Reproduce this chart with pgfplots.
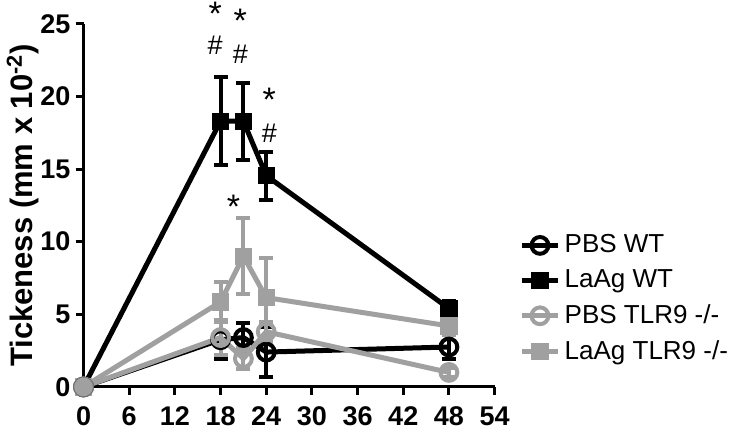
\documentclass[border=0pt]{standalone}
\usepackage{fontspec}
\setmainfont{Liberation Sans}
\usepackage{pgfplots}
\pgfplotsset{compat=1.18}

\definecolor{grayc}{RGB}{160,160,160}

\begin{document}
\begin{tikzpicture}
\begin{axis}[
    scale only axis,
    width=205.5pt, height=181.5pt,
    xmin=0, xmax=54, ymin=0, ymax=25,
    axis lines=left,
    axis line style={line width=1.5pt,-},
    xtick={0,6,...,54}, ytick={0,5,...,25},
    tick align=outside,
    major tick length=4pt,
    tick style={line width=1.5pt,black},
    /pgf/number format/assume math mode=true,
    ticklabel style={font=\fontsize{13.5}{14}\selectfont\bfseries},
    xticklabel style={yshift=-2.5pt},
    yticklabel style={xshift=1pt},
    ylabel={\bfseries Tickeness (mm x 10\textsuperscript{-2})},
    ylabel style={font=\fontsize{15.5}{16}\selectfont, yshift=-6pt},
    clip=false,
    legend cell align=left,
    legend style={draw=none, fill=none, inner sep=0pt, outer sep=0pt,
      at={(1.06,0.43)}, anchor=north west,
      font=\fontsize{13}{14}\selectfont, row sep=3pt,
      /tikz/every even column/.append style={column sep=6pt}},
    legend image code/.code={
      \draw[#1,mark repeat=2,mark phase=2] plot coordinates {(0cm,0cm) (0.32cm,0cm) (0.64cm,0cm)};},
    error bars/y dir=both, error bars/y explicit,
    error bars/error mark options={rotate=90, mark size=3.5pt, line width=2pt},
  ]
% PBS WT
\addplot[black, line width=2.5pt, mark=o, mark size=4.2pt,
  mark options={fill=white, line width=2pt},
  error bars/error bar style={line width=2pt, black}]
  coordinates {(0,0) +- (0,0) (18,3.25) +- (0,1.35) (21,3.4) +- (0,1.0) (24,2.4) +- (0,1.7) (48,2.75) +- (0,0.85)};
\addlegendentry{PBS WT}
% LaAg WT
\addplot[black, line width=2.5pt, mark=square*, mark size=3.8pt,
  mark options={fill=black, line width=1pt},
  error bars/error bar style={line width=2pt, black}]
  coordinates {(0,0) +- (0,0) (18,18.3) +- (0,3.05) (21,18.3) +- (0,2.65) (24,14.55) +- (0,1.65) (48,5.4) +- (0,0.5)};
\addlegendentry{LaAg WT}
% PBS TLR9 -/-
\addplot[grayc, line width=2.5pt, mark=o, mark size=4.2pt,
  mark options={fill=white, line width=2pt},
  error bars/error bar style={line width=2pt, grayc}]
  coordinates {(0,0) +- (0,0) (18,3.4) +- (0,1.2) (21,1.95) +- (0,0.75) (24,3.8) +- (0,0.7) (48,1.0) +- (0,0.3)};
\addlegendentry{PBS TLR9 -/-}
% LaAg TLR9 -/-
\addplot[grayc, line width=2.5pt, mark=square*, mark size=3.8pt,
  mark options={fill=grayc, line width=1pt},
  error bars/error bar style={line width=2pt, grayc}]
  coordinates {(0,0) +- (0,0) (18,5.85) +- (0,1.4) (21,9.0) +- (0,2.6) (24,6.15) +- (0,2.7) (48,4.2) +- (0,0.6)};
\addlegendentry{LaAg TLR9 -/-}
% common origin point
\addplot[grayc, only marks, mark=*, mark size=5pt, forget plot,
  mark options={fill=grayc, draw=grayc!70!black, line width=0.5pt}]
  coordinates {(0,0)};
% significance marks
\begin{scope}[every node/.style={inner sep=1pt}]
\node[font=\fontsize{17}{17}\selectfont] at (axis cs:17.3,25.7) {*};
\node[font=\fontsize{13.5}{14}\selectfont] at (axis cs:17.3,23.5) {\#};
\node[font=\fontsize{17}{17}\selectfont] at (axis cs:20.6,25.2) {*};
\node[font=\fontsize{13.5}{14}\selectfont] at (axis cs:20.6,22.9) {\#};
\node[font=\fontsize{17}{17}\selectfont] at (axis cs:24.4,19.8) {*};
\node[font=\fontsize{13.5}{14}\selectfont] at (axis cs:24.4,17.5) {\#};
\node[font=\fontsize{17}{17}\selectfont] at (axis cs:19.7,12.4) {*};
\end{scope}
\end{axis}
\end{tikzpicture}
\end{document}
